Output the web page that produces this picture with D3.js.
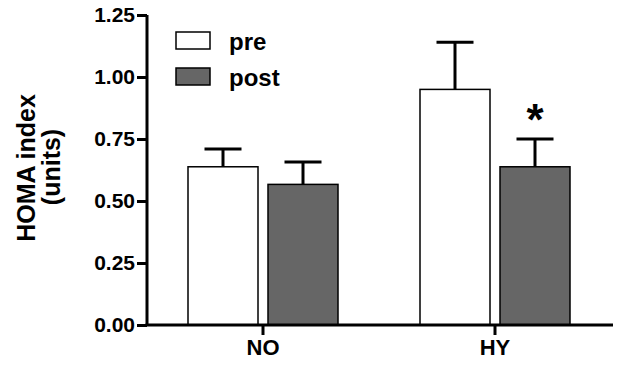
<!DOCTYPE html>
<html>
<head>
<meta charset="utf-8">
<script src="https://cdn.jsdelivr.net/npm/d3@7"></script>
<style>
  html, body { margin: 0; padding: 0; background: #fff; }
  svg { display: block; }
  text { font-family: "Liberation Sans", Arial, sans-serif; font-weight: bold; fill: #000; }
</style>
</head>
<body>
<svg id="chart" width="623" height="367"></svg>
<script>
// ---- data ----
const categories = ["NO", "HY"];
const seriesNames = ["pre", "post"];
const preValues = [0.638, 0.950];
const postValues = [0.567, 0.638];
const preErrors = [0.072, 0.190];
const postErrors = [0.090, 0.112];
const yTicks = [0.00, 0.25, 0.50, 0.75, 1.00, 1.25];
const yTitle = ["HOMA index", "(units)"];
const significance = [null, "*"]; // marker above post bars

const seriesFill = { pre: "#ffffff", post: "#666666" };

const svg = d3.select("#chart");

const y = d3.scaleLinear().domain([0, 1.25]).range([325, 15]);
const x0 = d3.scaleBand().domain(categories).range([147, 611]).paddingInner(0).paddingOuter(0);
const x1 = d3.scaleBand().domain(seriesNames).range([-75, 75]).paddingInner(0.125).paddingOuter(0);

const rows = [];
categories.forEach((c, i) => {
  rows.push({ cat: c, s: "pre", v: preValues[i], e: preErrors[i], mark: null });
  rows.push({ cat: c, s: "post", v: postValues[i], e: postErrors[i], mark: significance[i] });
});
const cx = d => x0(d.cat) + x0.bandwidth() / 2;

// bars
svg.append("g").selectAll("rect").data(rows).join("rect")
  .attr("x", d => cx(d) + x1(d.s))
  .attr("y", d => y(d.v))
  .attr("width", x1.bandwidth())
  .attr("height", d => y(0) - y(d.v))
  .attr("fill", d => seriesFill[d.s])
  .attr("stroke", "#000")
  .attr("stroke-width", 1.5);

// error bars (upper only)
const eg = svg.append("g").attr("stroke", "#000").attr("stroke-width", 3);
rows.forEach(d => {
  const mx = cx(d) + x1(d.s) + x1.bandwidth() / 2;
  eg.append("line").attr("x1", mx).attr("x2", mx).attr("y1", y(d.v)).attr("y2", y(d.v + d.e));
  eg.append("line").attr("x1", mx - 18.5).attr("x2", mx + 18.5).attr("y1", y(d.v + d.e)).attr("y2", y(d.v + d.e));
});

// significance marker
rows.filter(d => d.mark).forEach(d => {
  const mx = cx(d) + x1(d.s) + x1.bandwidth() / 2;
  svg.append("text").attr("x", mx).attr("y", y(d.v + d.e) - 4)
    .attr("text-anchor", "middle").style("font-size", "44px").text(d.mark);
});

// y axis
const yAxis = svg.append("g").attr("transform", "translate(147,0)")
  .call(d3.axisLeft(y).tickValues(yTicks).tickFormat(d3.format(".2f")).tickSize(10).tickPadding(2));
yAxis.select(".domain").attr("stroke", "#000").attr("stroke-width", 3).attr("d", `M0,${y(0)}V${y(1.25)}`);
yAxis.selectAll(".tick line").attr("stroke", "#000").attr("stroke-width", 3);
yAxis.selectAll(".tick text").style("font-size", "21px").style("font-family", "'Liberation Sans', Arial, sans-serif").style("font-weight", "bold").attr("fill", "#000");

// x axis
const xAxis = svg.append("g").attr("transform", `translate(0,${y(0)})`)
  .call(d3.axisBottom(x0).tickSize(10).tickPadding(4));
xAxis.select(".domain").attr("stroke", "#000").attr("stroke-width", 3).attr("d", "M145.5,0H613");
xAxis.selectAll(".tick line").attr("stroke", "#000").attr("stroke-width", 3);
xAxis.selectAll(".tick text").style("font-size", "22px").style("font-family", "'Liberation Sans', Arial, sans-serif").style("font-weight", "bold").attr("fill", "#000");

// y title
svg.append("text").attr("transform", "translate(35,168) rotate(-90)")
  .attr("text-anchor", "middle").style("font-size", "25px").text(yTitle[0]);
svg.append("text").attr("transform", "translate(60,167) rotate(-90)")
  .attr("text-anchor", "middle").style("font-size", "25px").text(yTitle[1]);

// legend
const lg = svg.append("g");
seriesNames.forEach((s, i) => {
  const ty = 32 + i * 36;
  lg.append("rect").attr("x", 176).attr("y", ty).attr("width", 34).attr("height", 17)
    .attr("fill", seriesFill[s]).attr("stroke", "#000").attr("stroke-width", 1.5);
  lg.append("text").attr("x", 229).attr("y", ty + 18).style("font-size", "24px").text(s);
});
</script>
</body>
</html>
